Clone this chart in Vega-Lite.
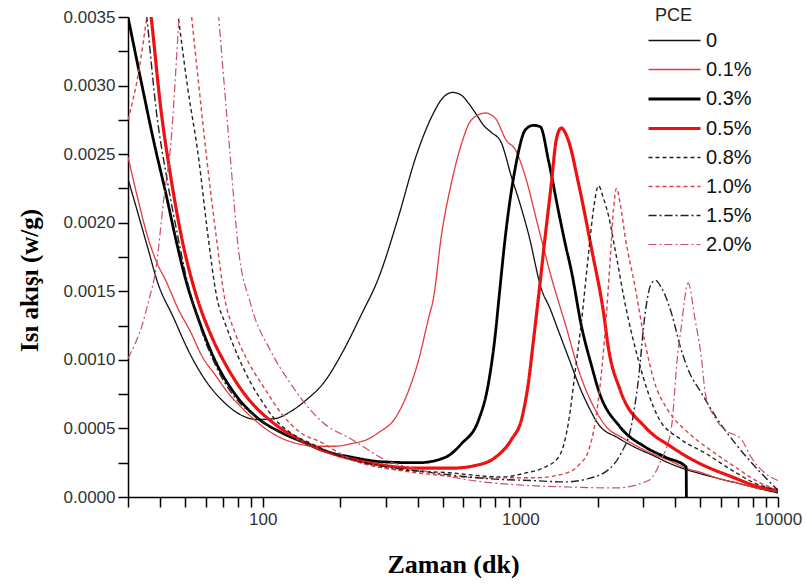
{
"$schema": "https://vega.github.io/schema/vega-lite/v6.json",
"width": 650, "height": 480,
"autosize": {"type": "none"},
"padding": {"left": 128, "top": 17, "right": 28, "bottom": 88},
"background": "white",
"config": {"view": {"stroke": null}, "font": "Liberation Sans"},
"data": {"values": [
{"PCE":"0","t":30,"v":0.00232},{"PCE":"0","t":33,"v":0.00205},{"PCE":"0","t":36,"v":0.0018},{"PCE":"0","t":39,"v":0.00157},{"PCE":"0","t":45,"v":0.00131},{"PCE":"0","t":52,"v":0.00105},{"PCE":"0","t":61,"v":0.00083},{"PCE":"0","t":70,"v":0.0007},{"PCE":"0","t":82,"v":0.0006},{"PCE":"0","t":95,"v":0.000565},{"PCE":"0","t":110,"v":0.00057},{"PCE":"0","t":130,"v":0.00063},{"PCE":"0","t":148,"v":0.00071},{"PCE":"0","t":172,"v":0.00083},{"PCE":"0","t":206,"v":0.00107},{"PCE":"0","t":240,"v":0.00132},{"PCE":"0","t":282,"v":0.0016},{"PCE":"0","t":336,"v":0.00204},{"PCE":"0","t":393,"v":0.00248},{"PCE":"0","t":452,"v":0.00277},{"PCE":"0","t":500,"v":0.00291},{"PCE":"0","t":545,"v":0.00295},{"PCE":"0","t":590,"v":0.00293},{"PCE":"0","t":630,"v":0.00287},{"PCE":"0","t":680,"v":0.00278},{"PCE":"0","t":720,"v":0.00271},{"PCE":"0","t":770,"v":0.00266},{"PCE":"0","t":840,"v":0.00259},{"PCE":"0","t":925,"v":0.00233},{"PCE":"0","t":1000,"v":0.00213},{"PCE":"0","t":1075,"v":0.00192},{"PCE":"0","t":1210,"v":0.00151},{"PCE":"0","t":1300,"v":0.00138},{"PCE":"0","t":1400,"v":0.00122},{"PCE":"0","t":1550,"v":0.001},{"PCE":"0","t":1700,"v":0.0008},{"PCE":"0","t":1850,"v":0.00065},{"PCE":"0","t":2010,"v":0.00053},{"PCE":"0","t":2400,"v":0.00043},{"PCE":"0","t":2800,"v":0.00036},{"PCE":"0","t":3300,"v":0.0003},{"PCE":"0","t":3750,"v":0.00025},{"PCE":"0","t":4400,"v":0.0002},{"PCE":"0","t":5000,"v":0.00017},{"PCE":"0","t":6000,"v":0.00013},{"PCE":"0","t":7000,"v":0.0001},{"PCE":"0","t":8500,"v":0.00006},{"PCE":"0","t":10000,"v":0.00003},

{"PCE":"0.1%","t":30,"v":0.00248},{"PCE":"0.1%","t":33,"v":0.00215},{"PCE":"0.1%","t":36,"v":0.00188},{"PCE":"0.1%","t":39,"v":0.0017},{"PCE":"0.1%","t":42,"v":0.00158},{"PCE":"0.1%","t":47,"v":0.00137},{"PCE":"0.1%","t":52.6,"v":0.0012},{"PCE":"0.1%","t":58,"v":0.00103},{"PCE":"0.1%","t":66,"v":0.00088},{"PCE":"0.1%","t":74,"v":0.00075},{"PCE":"0.1%","t":82,"v":0.00066},{"PCE":"0.1%","t":92,"v":0.00057},{"PCE":"0.1%","t":104,"v":0.00049},{"PCE":"0.1%","t":118,"v":0.00043},{"PCE":"0.1%","t":136,"v":0.00039},{"PCE":"0.1%","t":160,"v":0.00037},{"PCE":"0.1%","t":190,"v":0.00037},{"PCE":"0.1%","t":222,"v":0.00039},{"PCE":"0.1%","t":255,"v":0.00042},{"PCE":"0.1%","t":282,"v":0.00047},{"PCE":"0.1%","t":328,"v":0.00058},{"PCE":"0.1%","t":369,"v":0.00078},{"PCE":"0.1%","t":403,"v":0.001},{"PCE":"0.1%","t":441,"v":0.00131},{"PCE":"0.1%","t":459,"v":0.00144},{"PCE":"0.1%","t":495,"v":0.00192},{"PCE":"0.1%","t":540,"v":0.00229},{"PCE":"0.1%","t":592,"v":0.00258},{"PCE":"0.1%","t":646,"v":0.00275},{"PCE":"0.1%","t":731,"v":0.0028},{"PCE":"0.1%","t":801,"v":0.00276},{"PCE":"0.1%","t":882,"v":0.0026},{"PCE":"0.1%","t":958,"v":0.00253},{"PCE":"0.1%","t":1048,"v":0.00233},{"PCE":"0.1%","t":1173,"v":0.00197},{"PCE":"0.1%","t":1320,"v":0.0016},{"PCE":"0.1%","t":1500,"v":0.00125},{"PCE":"0.1%","t":1700,"v":0.0009},{"PCE":"0.1%","t":1900,"v":0.00068},{"PCE":"0.1%","t":2160,"v":0.00051},{"PCE":"0.1%","t":2500,"v":0.00043},{"PCE":"0.1%","t":2870,"v":0.000365},{"PCE":"0.1%","t":3300,"v":0.00031},{"PCE":"0.1%","t":3750,"v":0.00027},{"PCE":"0.1%","t":4400,"v":0.00021},{"PCE":"0.1%","t":5000,"v":0.00018},{"PCE":"0.1%","t":6000,"v":0.00013},{"PCE":"0.1%","t":7000,"v":0.0001},{"PCE":"0.1%","t":8500,"v":0.00006},{"PCE":"0.1%","t":10000,"v":0.00004},

{"PCE":"0.3%","t":30,"v":0.0035},{"PCE":"0.3%","t":34,"v":0.003},{"PCE":"0.3%","t":38,"v":0.00257},{"PCE":"0.3%","t":42,"v":0.00222},{"PCE":"0.3%","t":46,"v":0.00188},{"PCE":"0.3%","t":50,"v":0.0016},{"PCE":"0.3%","t":57.5,"v":0.00125},{"PCE":"0.3%","t":66.3,"v":0.00097},{"PCE":"0.3%","t":77.4,"v":0.00076},{"PCE":"0.3%","t":95,"v":0.00058},{"PCE":"0.3%","t":118,"v":0.00047},{"PCE":"0.3%","t":148,"v":0.00039},{"PCE":"0.3%","t":165,"v":0.00035},{"PCE":"0.3%","t":222,"v":0.00029},{"PCE":"0.3%","t":300,"v":0.000255},{"PCE":"0.3%","t":403,"v":0.00025},{"PCE":"0.3%","t":512,"v":0.00029},{"PCE":"0.3%","t":592,"v":0.00039},{"PCE":"0.3%","t":688,"v":0.00056},{"PCE":"0.3%","t":752,"v":0.00083},{"PCE":"0.3%","t":801,"v":0.0012},{"PCE":"0.3%","t":825,"v":0.00144},{"PCE":"0.3%","t":877,"v":0.00192},{"PCE":"0.3%","t":958,"v":0.00241},{"PCE":"0.3%","t":1048,"v":0.00268},{"PCE":"0.3%","t":1124,"v":0.00271},{"PCE":"0.3%","t":1195,"v":0.0027},{"PCE":"0.3%","t":1287,"v":0.00245},{"PCE":"0.3%","t":1407,"v":0.00208},{"PCE":"0.3%","t":1492,"v":0.00185},{"PCE":"0.3%","t":1577,"v":0.00165},{"PCE":"0.3%","t":1729,"v":0.00124},{"PCE":"0.3%","t":1894,"v":0.00095},{"PCE":"0.3%","t":2010,"v":0.00078},{"PCE":"0.3%","t":2440,"v":0.00051},{"PCE":"0.3%","t":3050,"v":0.000365},{"PCE":"0.3%","t":3660,"v":0.00029},{"PCE":"0.3%","t":4400,"v":0.00022},{"PCE":"0.3%","t":4410,"v":0},

{"PCE":"0.5%","t":30,"v":0.0048},{"PCE":"0.5%","t":36.9,"v":0.0035},{"PCE":"0.5%","t":40.3,"v":0.00282},{"PCE":"0.5%","t":44,"v":0.00233},{"PCE":"0.5%","t":48.6,"v":0.00188},{"PCE":"0.5%","t":55,"v":0.00148},{"PCE":"0.5%","t":63,"v":0.00118},{"PCE":"0.5%","t":72.6,"v":0.00095},{"PCE":"0.5%","t":86.7,"v":0.00073},{"PCE":"0.5%","t":110,"v":0.00054},{"PCE":"0.5%","t":135.6,"v":0.00043},{"PCE":"0.5%","t":172,"v":0.00034},{"PCE":"0.5%","t":258,"v":0.00025},{"PCE":"0.5%","t":403,"v":0.00021},{"PCE":"0.5%","t":540,"v":0.00021},{"PCE":"0.5%","t":669,"v":0.00023},{"PCE":"0.5%","t":801,"v":0.00029},{"PCE":"0.5%","t":924,"v":0.00042},{"PCE":"0.5%","t":1015,"v":0.00058},{"PCE":"0.5%","t":1074,"v":0.00083},{"PCE":"0.5%","t":1124,"v":0.00114},{"PCE":"0.5%","t":1173,"v":0.00144},{"PCE":"0.5%","t":1252,"v":0.00192},{"PCE":"0.5%","t":1320,"v":0.00229},{"PCE":"0.5%","t":1377,"v":0.0026},{"PCE":"0.5%","t":1440,"v":0.00269},{"PCE":"0.5%","t":1536,"v":0.0026},{"PCE":"0.5%","t":1680,"v":0.00229},{"PCE":"0.5%","t":1894,"v":0.0018},{"PCE":"0.5%","t":2097,"v":0.00136},{"PCE":"0.5%","t":2200,"v":0.00108},{"PCE":"0.5%","t":2440,"v":0.00078},{"PCE":"0.5%","t":3050,"v":0.00051},{"PCE":"0.5%","t":3860,"v":0.000365},{"PCE":"0.5%","t":4900,"v":0.00025},{"PCE":"0.5%","t":6560,"v":0.00015},{"PCE":"0.5%","t":8590,"v":0.00007},{"PCE":"0.5%","t":10000,"v":0.00005},

{"PCE":"0.8%","t":30,"v":0.0075},{"PCE":"0.8%","t":40,"v":0.0045},{"PCE":"0.8%","t":47,"v":0.0035},{"PCE":"0.8%","t":51,"v":0.003},{"PCE":"0.8%","t":56.5,"v":0.00246},{"PCE":"0.8%","t":60.7,"v":0.00197},{"PCE":"0.8%","t":66.3,"v":0.00146},{"PCE":"0.8%","t":72,"v":0.00125},{"PCE":"0.8%","t":80,"v":0.00103},{"PCE":"0.8%","t":90,"v":0.00083},{"PCE":"0.8%","t":100,"v":0.00069},{"PCE":"0.8%","t":110,"v":0.00058},{"PCE":"0.8%","t":128,"v":0.00047},{"PCE":"0.8%","t":154,"v":0.00039},{"PCE":"0.8%","t":200,"v":0.0003},{"PCE":"0.8%","t":300,"v":0.00021},{"PCE":"0.8%","t":540,"v":0.000175},{"PCE":"0.8%","t":846,"v":0.000146},{"PCE":"0.8%","t":1048,"v":0.000175},{"PCE":"0.8%","t":1252,"v":0.00022},{"PCE":"0.8%","t":1407,"v":0.00029},{"PCE":"0.8%","t":1492,"v":0.00042},{"PCE":"0.8%","t":1536,"v":0.00054},{"PCE":"0.8%","t":1636,"v":0.00093},{"PCE":"0.8%","t":1729,"v":0.00129},{"PCE":"0.8%","t":1840,"v":0.00178},{"PCE":"0.8%","t":1930,"v":0.00212},{"PCE":"0.8%","t":2010,"v":0.00227},{"PCE":"0.8%","t":2100,"v":0.00218},{"PCE":"0.8%","t":2200,"v":0.00205},{"PCE":"0.8%","t":2345,"v":0.00178},{"PCE":"0.8%","t":2550,"v":0.00141},{"PCE":"0.8%","t":2870,"v":0.001},{"PCE":"0.8%","t":3430,"v":0.00058},{"PCE":"0.8%","t":4200,"v":0.00042},{"PCE":"0.8%","t":5220,"v":0.00032},{"PCE":"0.8%","t":6560,"v":0.0002},{"PCE":"0.8%","t":8160,"v":0.0001},{"PCE":"0.8%","t":10000,"v":0.00005},

{"PCE":"1.0%","t":30,"v":0.00275},{"PCE":"1.0%","t":33,"v":0.0031},{"PCE":"1.0%","t":35.5,"v":0.0035},{"PCE":"1.0%","t":40,"v":0.0042},{"PCE":"1.0%","t":46,"v":0.0045},{"PCE":"1.0%","t":50,"v":0.004},{"PCE":"1.0%","t":53,"v":0.0035},{"PCE":"1.0%","t":56.5,"v":0.003},{"PCE":"1.0%","t":60.7,"v":0.00246},{"PCE":"1.0%","t":66,"v":0.0019},{"PCE":"1.0%","t":71,"v":0.00146},{"PCE":"1.0%","t":78,"v":0.0012},{"PCE":"1.0%","t":87,"v":0.001},{"PCE":"1.0%","t":101,"v":0.0008},{"PCE":"1.0%","t":118,"v":0.00061},{"PCE":"1.0%","t":140,"v":0.00047},{"PCE":"1.0%","t":168,"v":0.0004},{"PCE":"1.0%","t":222,"v":0.00027},{"PCE":"1.0%","t":300,"v":0.00021},{"PCE":"1.0%","t":403,"v":0.000175},{"PCE":"1.0%","t":731,"v":0.00014},{"PCE":"1.0%","t":1140,"v":0.00014},{"PCE":"1.0%","t":1536,"v":0.00018},{"PCE":"1.0%","t":1700,"v":0.00024},{"PCE":"1.0%","t":1840,"v":0.00034},{"PCE":"1.0%","t":1950,"v":0.00054},{"PCE":"1.0%","t":2070,"v":0.00093},{"PCE":"1.0%","t":2150,"v":0.00129},{"PCE":"1.0%","t":2240,"v":0.00178},{"PCE":"1.0%","t":2300,"v":0.0021},{"PCE":"1.0%","t":2360,"v":0.00225},{"PCE":"1.0%","t":2450,"v":0.00212},{"PCE":"1.0%","t":2550,"v":0.0019},{"PCE":"1.0%","t":2790,"v":0.00153},{"PCE":"1.0%","t":3050,"v":0.00112},{"PCE":"1.0%","t":3300,"v":0.00085},{"PCE":"1.0%","t":3750,"v":0.00063},{"PCE":"1.0%","t":4480,"v":0.00047},{"PCE":"1.0%","t":5490,"v":0.00034},{"PCE":"1.0%","t":6800,"v":0.00022},{"PCE":"1.0%","t":8590,"v":0.0001},{"PCE":"1.0%","t":10000,"v":0.00005},

{"PCE":"1.5%","t":30,"v":0.0048},{"PCE":"1.5%","t":35.5,"v":0.0035},{"PCE":"1.5%","t":38.6,"v":0.00282},{"PCE":"1.5%","t":42.4,"v":0.00233},{"PCE":"1.5%","t":46.6,"v":0.00192},{"PCE":"1.5%","t":50,"v":0.00164},{"PCE":"1.5%","t":57,"v":0.00125},{"PCE":"1.5%","t":66,"v":0.00095},{"PCE":"1.5%","t":77,"v":0.00074},{"PCE":"1.5%","t":95,"v":0.00058},{"PCE":"1.5%","t":118,"v":0.00047},{"PCE":"1.5%","t":150,"v":0.00039},{"PCE":"1.5%","t":200,"v":0.0003},{"PCE":"1.5%","t":300,"v":0.00022},{"PCE":"1.5%","t":400,"v":0.00019},{"PCE":"1.5%","t":540,"v":0.00016},{"PCE":"1.5%","t":800,"v":0.00013},{"PCE":"1.5%","t":1100,"v":0.00012},{"PCE":"1.5%","t":1500,"v":0.00011},{"PCE":"1.5%","t":1800,"v":0.00013},{"PCE":"1.5%","t":2200,"v":0.0002},{"PCE":"1.5%","t":2460,"v":0.00032},{"PCE":"1.5%","t":2690,"v":0.00051},{"PCE":"1.5%","t":2870,"v":0.00085},{"PCE":"1.5%","t":3050,"v":0.00134},{"PCE":"1.5%","t":3230,"v":0.00156},{"PCE":"1.5%","t":3350,"v":0.00158},{"PCE":"1.5%","t":3520,"v":0.00153},{"PCE":"1.5%","t":3860,"v":0.00134},{"PCE":"1.5%","t":4200,"v":0.00108},{"PCE":"1.5%","t":4500,"v":0.00092},{"PCE":"1.5%","t":5040,"v":0.00076},{"PCE":"1.5%","t":5850,"v":0.00056},{"PCE":"1.5%","t":7000,"v":0.000365},{"PCE":"1.5%","t":8590,"v":0.000175},{"PCE":"1.5%","t":10000,"v":0.00005},

{"PCE":"2.0%","t":30,"v":0.00101},{"PCE":"2.0%","t":32,"v":0.00112},{"PCE":"2.0%","t":34,"v":0.00125},{"PCE":"2.0%","t":36.2,"v":0.00144},{"PCE":"2.0%","t":38.4,"v":0.00165},{"PCE":"2.0%","t":41.4,"v":0.00219},{"PCE":"2.0%","t":44,"v":0.00258},{"PCE":"2.0%","t":47.2,"v":0.00346},{"PCE":"2.0%","t":50,"v":0.0042},{"PCE":"2.0%","t":56,"v":0.0048},{"PCE":"2.0%","t":62,"v":0.0044},{"PCE":"2.0%","t":67.5,"v":0.0035},{"PCE":"2.0%","t":75,"v":0.00246},{"PCE":"2.0%","t":80,"v":0.00185},{"PCE":"2.0%","t":90,"v":0.0014},{"PCE":"2.0%","t":107,"v":0.00107},{"PCE":"2.0%","t":128,"v":0.00083},{"PCE":"2.0%","t":154,"v":0.00063},{"PCE":"2.0%","t":172,"v":0.00054},{"PCE":"2.0%","t":222,"v":0.00042},{"PCE":"2.0%","t":300,"v":0.00027},{"PCE":"2.0%","t":403,"v":0.0002},{"PCE":"2.0%","t":630,"v":0.000124},{"PCE":"2.0%","t":987,"v":0.000088},{"PCE":"2.0%","t":1536,"v":0.000073},{"PCE":"2.0%","t":2345,"v":0.000066},{"PCE":"2.0%","t":3140,"v":0.00012},{"PCE":"2.0%","t":3520,"v":0.00027},{"PCE":"2.0%","t":3860,"v":0.00051},{"PCE":"2.0%","t":4070,"v":0.00102},{"PCE":"2.0%","t":4200,"v":0.00122},{"PCE":"2.0%","t":4480,"v":0.00156},{"PCE":"2.0%","t":4770,"v":0.00129},{"PCE":"2.0%","t":5040,"v":0.00102},{"PCE":"2.0%","t":5220,"v":0.00076},{"PCE":"2.0%","t":5680,"v":0.00058},{"PCE":"2.0%","t":6230,"v":0.00049},{"PCE":"2.0%","t":7210,"v":0.00042},{"PCE":"2.0%","t":7870,"v":0.00029},{"PCE":"2.0%","t":8890,"v":0.000175},{"PCE":"2.0%","t":10000,"v":0.00012}
]},
"mark": {"type": "line", "clip": true, "strokeJoin": "round", "interpolate": "monotone"},
"encoding": {
  "x": {"field": "t", "type": "quantitative",
    "scale": {"type": "log", "domain": [30, 10000], "nice": false},
    "axis": {"title": "Zaman (dk)", "titleFont": "Liberation Serif", "titleFontSize": 26, "titleFontWeight": "bold", "titleColor": "#000", "titlePadding": 24,
      "values": [30,40,50,60,70,80,90,100,200,300,400,500,600,700,800,900,1000,2000,3000,4000,5000,6000,7000,8000,9000,10000],
      "labelExpr": "(datum.value==100||datum.value==1000||datum.value==10000) ? format(datum.value,'d') : ''",
      "labelFlush": false, "labelOverlap": false, "labelFontSize": 17, "labelColor": "#333", "labelPadding": 4,
      "tickSize": 10, "tickWidth": 1.5, "tickColor": "#000", "domainColor": "#000", "domainWidth": 1.5, "grid": false,
      "encode": {"ticks": {"update": {"y2": {"signal": "(datum.value==100||datum.value==1000||datum.value==10000) ? 10 : 6"}}}}
    }},
  "y": {"field": "v", "type": "quantitative",
    "scale": {"domain": [0, 0.0035], "nice": false, "zero": false},
    "axis": {"title": "Isı akışı (w/g)", "titleFont": "Liberation Serif", "titleFontSize": 25, "titleFontWeight": "bold", "titleColor": "#000", "titlePadding": 21, "titleY": 263,
      "values": [0,0.00025,0.0005,0.00075,0.001,0.00125,0.0015,0.00175,0.002,0.00225,0.0025,0.00275,0.003,0.00325,0.0035],
      "labelExpr": "round(datum.value*4000) % 2 == 0 ? format(datum.value,'.4f') : ''",
      "labelFlush": false, "labelOverlap": false, "labelFontSize": 17, "labelColor": "#333", "labelPadding": 3,
      "tickSize": 10, "tickWidth": 1.5, "tickColor": "#000", "domainColor": "#000", "domainWidth": 1.5, "grid": false,
      "encode": {"ticks": {"update": {"x2": {"signal": "round(datum.value*4000) % 2 == 0 ? -10 : -6"}}}}
    }},
  "color": {"field": "PCE", "type": "ordinal",
    "scale": {"type": "ordinal", "domain": ["0","0.1%","0.3%","0.5%","0.8%","1.0%","1.5%","2.0%"],
              "range": ["#111111","#e33b3b","#000000","#ee1111","#222222","#d9404a","#222222","#c9506a"]},
    "legend": {"orient": "none", "legendX": 527, "legendY": -10, "title": "PCE", "titleFontSize": 18, "titleFontWeight": "normal", "titleColor": "#222", "titlePadding": -3,
      "labelFontSize": 20, "labelColor": "#111", "labelOffset": 12, "symbolType": "M-1.486,0H1.486", "symbolSize": 1225, "rowPadding": 0, "padding": 0}},
  "strokeDash": {"field": "PCE", "type": "ordinal",
    "scale": {"type": "ordinal", "domain": ["0","0.1%","0.3%","0.5%","0.8%","1.0%","1.5%","2.0%"],
              "range": [[1,0],[1,0],[1,0],[1,0],[4,3],[4,3],[8,3,2,3],[8,3,2,3]]}},
  "strokeWidth": {"field": "PCE", "type": "ordinal",
    "scale": {"type": "ordinal", "domain": ["0","0.1%","0.3%","0.5%","0.8%","1.0%","1.5%","2.0%"],
              "range": [1.3,1.3,2.8,3.2,1.4,1.4,1.4,1.2]}}
}
}
